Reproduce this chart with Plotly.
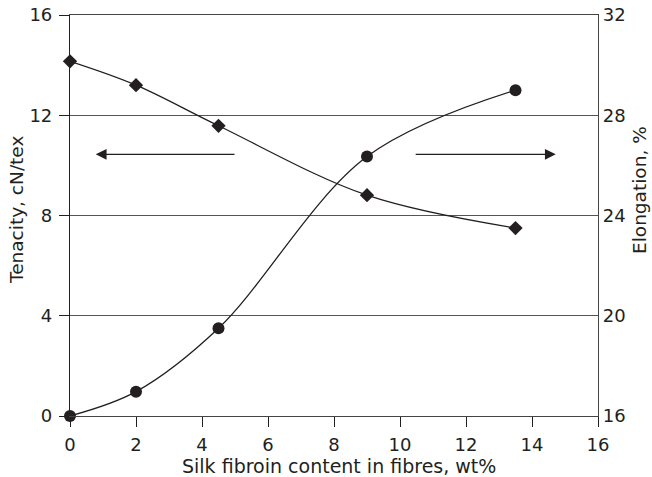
import plotly.graph_objects as go

silk_content = [0, 2, 4.5, 9, 13.5]
tenacity = [14.15, 13.2, 11.58, 8.81, 7.5]
elongation = [16.0, 16.97, 19.5, 26.35, 29.0]

x_ticks = [0, 2, 4, 6, 8, 10, 12, 14, 16]
y1_ticks = [0, 4, 8, 12, 16]
y2_ticks = [16, 20, 24, 28, 32]

x_title = "Silk fibroin content in fibres, wt%"
y1_title = "Tenacity, cN/tex"
y2_title = "Elongation, %"

FONT = "DejaVu Sans, sans-serif"
TXT = "#231f20"
W, H = 652, 477
L, T = 70, 15
R = W - 598
B = H - 416
PW, PH = W - L - R, H - T - B


def px(xp):
    return (xp - L) / PW


def py(yp):
    return 1 - (yp - T) / PH


fig = go.Figure()
fig.add_trace(go.Scatter(
    x=silk_content, y=tenacity, mode="lines+markers",
    line=dict(color="#231f20", width=1.3, shape="spline", smoothing=1.0),
    marker=dict(symbol="diamond", size=11, color="#231f20"),
    cliponaxis=False, showlegend=False, yaxis="y"))
fig.add_trace(go.Scatter(
    x=silk_content, y=elongation, mode="lines+markers",
    line=dict(color="#231f20", width=1.3, shape="spline", smoothing=1.0),
    marker=dict(symbol="circle", size=12, color="#231f20"),
    cliponaxis=False, showlegend=False, yaxis="y2"))

# arrows
for x_head, x_tail in [(0.78, 5.03), (14.72, 10.43)]:
    fig.add_annotation(x=x_head, y=10.44, ax=x_tail, ay=10.44, xref="x", yref="y",
                       axref="x", ayref="y", showarrow=True, arrowhead=2,
                       arrowsize=1.8, arrowwidth=1.2, arrowcolor="#231f20", text="")

# axis titles
fig.add_annotation(text=x_title, x=px(339), y=py(466), xref="paper", yref="paper",
                   showarrow=False, font=dict(size=19, color=TXT),
                   xanchor="center", yanchor="middle", borderpad=0)
fig.add_annotation(text=y1_title, x=px(16), y=py(210), xref="paper", yref="paper",
                   showarrow=False, textangle=-90, font=dict(size=18.5, color=TXT),
                   xanchor="center", yanchor="middle", borderpad=0)
fig.add_annotation(text=y2_title, x=px(639), y=py(190), xref="paper", yref="paper",
                   showarrow=False, textangle=-90, font=dict(size=18.5, color=TXT),
                   xanchor="center", yanchor="middle", borderpad=0)

fig.update_layout(
    width=W, height=H,
    margin=dict(l=L, r=R, t=T, b=B),
    paper_bgcolor="white", plot_bgcolor="white",
    font=dict(family=FONT, color=TXT, size=18),
    xaxis=dict(range=[0, 16], tickvals=x_ticks, ticks="outside", ticklen=10,
               tickcolor="#231f20", showline=True, linecolor="#444",
               linewidth=1.2, mirror=True, showgrid=False, zeroline=False,
               tickfont=dict(size=18), automargin=False, ticklabelstandoff=2),
    yaxis=dict(range=[0, 16], tickvals=y1_ticks, ticks="outside", ticklen=10,
               tickcolor="#231f20", showline=True, linecolor="#231f20",
               linewidth=1.2, showgrid=True, gridcolor="#555", gridwidth=1,
               zeroline=False, tickfont=dict(size=18), automargin=False,
               ticklabelstandoff=3, ticklabeloverflow="allow"),
    yaxis2=dict(range=[16, 32], tickvals=y2_ticks, overlaying="y",
                side="right", ticks="", showline=True, linecolor="#444",
                linewidth=1.2, showgrid=False, zeroline=False,
                tickfont=dict(size=18), automargin=False,
                ticklabeloverflow="allow"),
)

fig.write_html("out.html",
               config={"displayModeBar": False},
               post_script="document.body.style.margin='0';document.body.style.overflow='hidden';")
